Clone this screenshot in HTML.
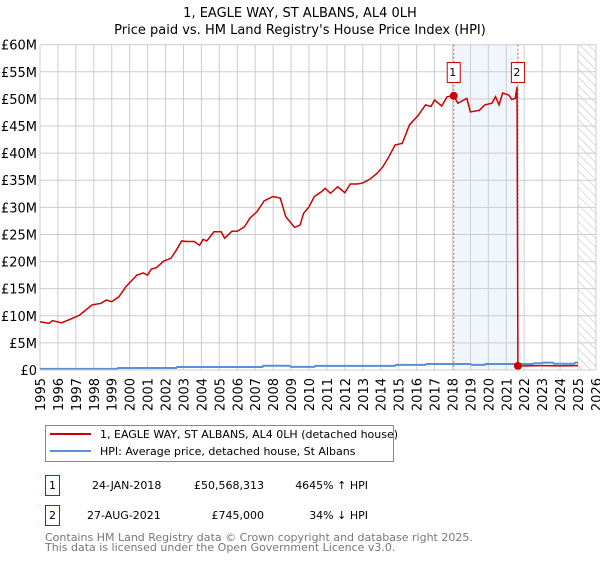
<!DOCTYPE html>
<html><head><meta charset="utf-8"><style>
body{margin:0;background:#fff;font-family:"DejaVu Sans","Liberation Sans",sans-serif;}
svg text{font-family:"DejaVu Sans","Liberation Sans",sans-serif;}
</style></head><body>
<svg id="chart" width="600" height="560" xmlns="http://www.w3.org/2000/svg">
<defs><pattern id="hatch" width="6" height="6" patternUnits="userSpaceOnUse" patternTransform="rotate(-45)"><line x1="0" y1="0" x2="0" y2="6" stroke="#bbb" stroke-width="1"/></pattern></defs>
<text x="300" y="17" text-anchor="middle" font-size="13">1, EAGLE WAY, ST ALBANS, AL4 0LH</text>
<text x="300" y="34" text-anchor="middle" font-size="13">Price paid vs. HM Land Registry's House Price Index (HPI)</text>
<g id="plot"></g>
<g>
<rect x="45.5" y="425.5" width="348" height="36" fill="#fff" stroke="#888"/>
<line x1="50" y1="434" x2="91" y2="434" stroke="#cc0000" stroke-width="2"/>
<text x="100" y="438" font-size="11">1, EAGLE WAY, ST ALBANS, AL4 0LH (detached house)</text>
<line x1="50" y1="451" x2="91" y2="451" stroke="#5b8fd4" stroke-width="2"/>
<text x="100" y="455" font-size="11">HPI: Average price, detached house, St Albans</text>
</g>
<g font-size="11">
<rect x="45.5" y="475.5" width="14" height="20" fill="#fff" stroke="#cc0000"/>
<text x="52.5" y="489" text-anchor="middle">1</text>
<text x="92" y="489">24-JAN-2018</text>
<text x="264" y="489" text-anchor="end">£50,568,313</text>
<text x="368" y="489" text-anchor="end">4645% ↑ HPI</text>
<rect x="45.5" y="505.5" width="14" height="20" fill="#fff" stroke="#cc0000"/>
<text x="52.5" y="519" text-anchor="middle">2</text>
<text x="87" y="519">27-AUG-2021</text>
<text x="264" y="519" text-anchor="end">£745,000</text>
<text x="368" y="519" text-anchor="end">34% ↓ HPI</text>
</g>
<text x="45" y="541" font-size="11" fill="#777">Contains HM Land Registry data © Crown copyright and database right 2025.</text>
<text x="45" y="551" font-size="11" fill="#777">This data is licensed under the Open Government Licence v3.0.</text>
</svg>
<script>
const yTicks=[0,5,10,15,20,25,30,35,40,45,50,55,60];
const yTickLabels=["£0","£5M","£10M","£15M","£20M","£25M","£30M","£35M","£40M","£45M","£50M","£55M","£60M"];
const xYears=[1995,1996,1997,1998,1999,2000,2001,2002,2003,2004,2005,2006,2007,2008,2009,2010,2011,2012,2013,2014,2015,2016,2017,2018,2019,2020,2021,2022,2023,2024,2025,2026];
const redT=[1995.0,1995.5,1995.7,1996.2,1996.8,1997.2,1997.9,1998.4,1998.7,1999.0,1999.4,1999.8,2000.4,2000.75,2001.0,2001.2,2001.5,2001.9,2002.3,2002.6,2002.9,2003.2,2003.6,2003.9,2004.1,2004.3,2004.7,2005.1,2005.3,2005.7,2006.0,2006.4,2006.7,2007.1,2007.5,2008.0,2008.4,2008.7,2008.9,2009.2,2009.5,2009.7,2010.0,2010.3,2010.7,2010.9,2011.2,2011.6,2012.0,2012.3,2012.7,2013.0,2013.4,2013.8,2014.1,2014.4,2014.8,2015.2,2015.6,2016.1,2016.5,2016.8,2017.0,2017.4,2017.7,2018.07,2018.3,2018.8,2019.0,2019.5,2019.8,2020.2,2020.4,2020.6,2020.8,2021.15,2021.3,2021.5,2021.6,2021.65,2022.5,2023.0,2024.0,2025.0];
const redV=[8.9,8.6,9.1,8.7,9.5,10.1,12.0,12.3,12.9,12.6,13.5,15.4,17.5,17.9,17.5,18.6,18.9,20.1,20.6,22.1,23.8,23.7,23.7,23.0,24.1,23.8,25.5,25.5,24.3,25.6,25.6,26.4,28.0,29.2,31.2,32.0,31.7,28.3,27.5,26.3,26.7,28.9,30.1,32.0,32.9,33.5,32.6,33.8,32.7,34.3,34.3,34.5,35.2,36.3,37.4,39.0,41.5,41.8,45.2,47.0,48.9,48.6,49.8,48.7,50.4,50.6,49.2,50.1,47.6,47.9,48.9,49.2,50.4,48.9,51.1,50.7,49.9,50.1,52.2,0.745,0.78,0.8,0.77,0.8];
const hpiT=[1995.0,1999.3,1999.35,2002.6,2002.65,2007.4,2007.45,2008.9,2009.0,2010.3,2010.35,2014.8,2014.85,2016.5,2016.55,2018.5,2019.0,2019.1,2019.8,2019.85,2022.5,2022.55,2023.0,2023.05,2023.6,2023.65,2024.8,2024.85,2025.0];
const hpiV=[0.2,0.2,0.38,0.38,0.55,0.55,0.78,0.78,0.58,0.58,0.77,0.77,0.95,0.95,1.1,1.1,1.1,0.95,0.95,1.1,1.1,1.25,1.25,1.35,1.35,1.15,1.15,1.35,1.35];
const sales=[{t:2018.07,v:50.568313,n:"1"},{t:2021.65,v:0.745,n:"2"}];
const X0=40,X1=578,Y0=370,Y1=44.7;
const xs=t=>X0+(t-1995)*(X1-X0)/30;
const ys=v=>Y0-v*(Y0-Y1)/60;
const NS="http://www.w3.org/2000/svg";
const g=document.getElementById('plot');
function mk(tag,attrs,parent){const e=document.createElementNS(NS,tag);for(const k in attrs)e.setAttribute(k,attrs[k]);(parent||g).appendChild(e);return e;}
// shaded band
let band=mk('rect',{x:xs(sales[0].t),y:Y1,width:xs(sales[1].t)-xs(sales[0].t),height:Y0-Y1,fill:'#eef3fc',opacity:0.8});


let hat=mk('rect',{x:xs(2025),y:Y1,width:xs(2026)-xs(2025),height:Y0-Y1,fill:'url(#hatch)'});


// grid
yTicks.forEach((v,i)=>{
 let l=mk('line',{x1:X0,x2:xs(2026),y1:ys(v),y2:ys(v),stroke:'#cccccc'});
 
 
 let t=mk('text',{x:X0-3,y:ys(v)+5,'text-anchor':'end','font-size':13});
 t.textContent=yTickLabels[i];
 
 
});
xYears.forEach(y=>{
 let l=mk('line',{x1:xs(y),x2:xs(y),y1:Y1,y2:Y0,stroke:'#cccccc'});
 
 
 let t=mk('text',{x:0,y:0,'text-anchor':'end','font-size':13,transform:`translate(${xs(y)+5},${Y0+8}) rotate(-90)`});
 t.textContent=y;
 
 
});
// sale lines
sales.forEach(s=>{
 let l=mk('line',{x1:xs(s.t),x2:xs(s.t),y1:Y1,y2:Y0,stroke:'#e05050','stroke-dasharray':'2,2'});
 
 
});
// series
let hp=mk('polyline',{points:hpiT.map((t,i)=>xs(t)+','+ys(hpiV[i])).join(' '),fill:'none',stroke:'#5b8fd4','stroke-width':2});


let rp=mk('polyline',{points:redT.map((t,i)=>xs(t)+','+ys(redV[i])).join(' '),fill:'none',stroke:'#cc0000','stroke-width':1.5});


sales.forEach((s,i)=>{
 let c=mk('circle',{cx:xs(s.t),cy:ys(s.v),r:4,fill:'#cc0000'});
 
 
 let bx=mk('rect',{x:xs(s.t)-6.5,y:62.5,width:13,height:20,fill:'#fff',stroke:'#cc0000'});
 
 
 let t=mk('text',{x:xs(s.t)-1,y:76,'text-anchor':'middle','font-size':11});
 t.textContent=s.n;
 
 
});
let ax=mk('line',{x1:X0,x2:xs(2026),y1:Y0,y2:Y0,stroke:'#cccccc'});


</script>
</body></html>
